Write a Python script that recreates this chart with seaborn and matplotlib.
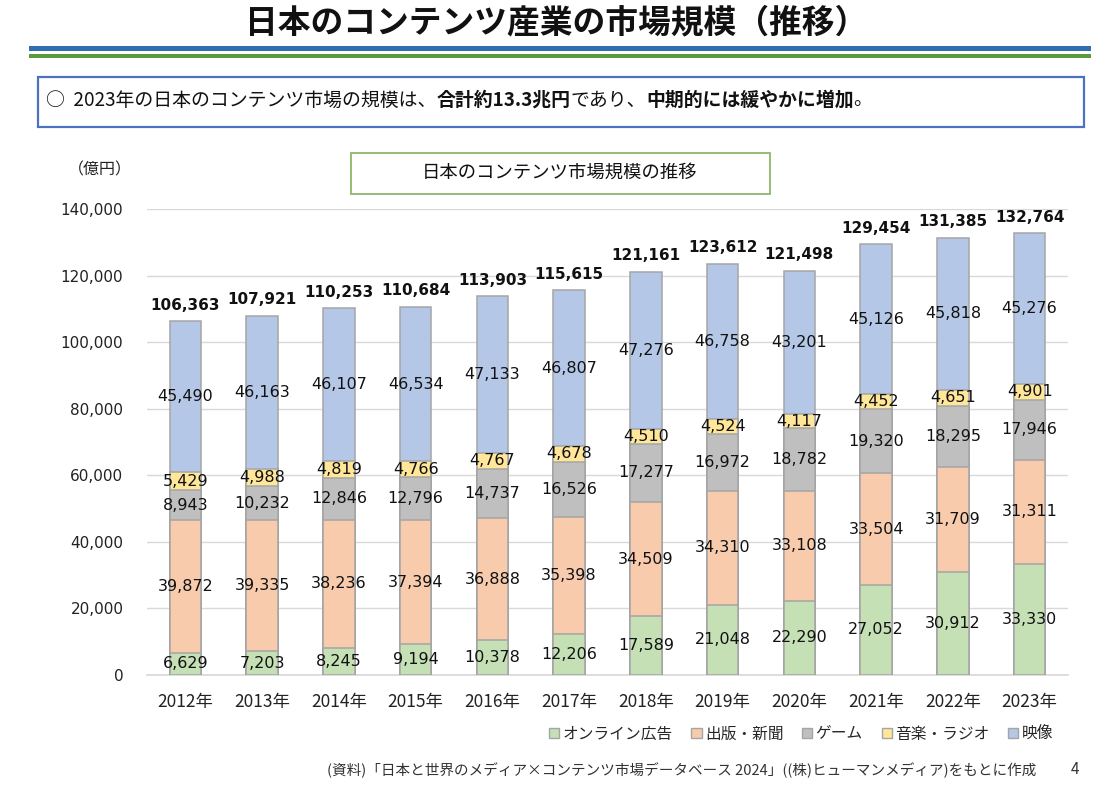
"""
日本のコンテンツ産業の市場規模（推移） — stacked bar recreation
"""

import matplotlib
matplotlib.use("Agg")
import matplotlib.pyplot as plt
import matplotlib.patches as mpatches
import matplotlib.ticker as mticker
import pandas as pd
import seaborn as sns

# ── Data (億円) ───────────────────────────────────────────────────────────────
years    = ["2012年", "2013年", "2014年", "2015年", "2016年", "2017年",
            "2018年", "2019年", "2020年", "2021年", "2022年", "2023年"]
online   = [6629, 7203, 8245, 9194, 10378, 12206, 17589, 21048, 22290, 27052, 30912, 33330]
publish  = [39872, 39335, 38236, 37394, 36888, 35398, 34509, 34310, 33108, 33504, 31709, 31311]
game     = [8943, 10232, 12846, 12796, 14737, 16526, 17277, 16972, 18782, 19320, 18295, 17946]
music    = [5429, 4988, 4819, 4766, 4767, 4678, 4510, 4524, 4117, 4452, 4651, 4901]
video    = [45490, 46163, 46107, 46534, 47133, 46807, 47276, 46758, 43201, 45126, 45818, 45276]
totals   = [106363, 107921, 110253, 110684, 113903, 115615, 121161, 123612, 121498, 129454, 131385, 132764]

series_names = ["オンライン広告", "出版・新聞", "ゲーム", "音楽・ラジオ", "映像"]
COLORS = ["#C5E0B4", "#F8CBAD", "#BFBFBF", "#FFE699", "#B4C7E7"]
EDGE   = "#A5A5A5"

JP = ["Noto Sans CJK JP", "DejaVu Sans"]

sns.set_theme(style="white")
plt.rcParams["font.family"] = ["DejaVu Sans", "Noto Sans CJK JP"]

df = pd.DataFrame({"year": years, "online": online, "publish": publish,
                   "game": game, "music": music, "video": video})
layers = ["online", "publish", "game", "music", "video"]
cum = df[layers].cumsum(axis=1)

# ── Figure ────────────────────────────────────────────────────────────────────
W, H = 1115, 787
fig = plt.figure(figsize=(W / 100, H / 100), dpi=100)
fig.patch.set_facecolor("white")


def fx(px):
    return px / W


def fy(py):
    return 1 - py / H


# page title + rules
fig.text(fx(556), fy(23), "日本のコンテンツ産業の市場規模（推移）", ha="center", va="center",
         fontsize=23.6, fontweight="bold", family=JP, color="#111111")
fig.patches.append(mpatches.Rectangle((fx(29), fy(51)), fx(1062), 5 / H,
                                      transform=fig.transFigure, color="#2F6EB0", lw=0))
fig.patches.append(mpatches.Rectangle((fx(29), fy(57.5)), fx(1062), 3 / H,
                                      transform=fig.transFigure, color="#5A9A3A", lw=0))

# summary box
fig.patches.append(mpatches.Rectangle((fx(38), fy(127)), fx(1046), 50 / H,
                                      transform=fig.transFigure, fill=False,
                                      edgecolor="#4A72C0", lw=1.6))
segments = [("○  2023年の日本のコンテンツ市場の規模は、", "normal"),
            ("合計約13.3兆円", "bold"),
            ("であり、", "normal"),
            ("中期的には緩やかに増加", "bold"),
            ("。", "normal")]
renderer = fig.canvas.get_renderer()
x_px = 46
for txt, wt in segments:
    t = fig.text(fx(x_px), fy(100), txt, ha="left", va="center",
                 fontsize=13.6, fontweight=wt, family=JP, color="#111111")
    x_px += t.get_window_extent(renderer).width

# chart title box
fig.patches.append(mpatches.Rectangle((fx(351), fy(194)), fx(419), 41 / H,
                                      transform=fig.transFigure, fill=False,
                                      edgecolor="#8CB86A", lw=1.3))
fig.text(fx(560), fy(173), "日本のコンテンツ市場規模の推移", ha="center", va="center",
         fontsize=13.2, family=JP, color="#111111")
fig.text(fx(68), fy(170), "（億円）", ha="left", va="center", fontsize=11.5, family=JP,
         color="#222222")

# ── Stacked bars ──────────────────────────────────────────────────────────────
ax = fig.add_axes([fx(147), fy(675), fx(1068 - 147), (675 - 209) / H])
for layer, color in reversed(list(zip(layers, COLORS))):
    sns.barplot(x=df["year"], y=cum[layer], color=color, saturation=1,
                width=0.41, edgecolor=EDGE, linewidth=1.1, ax=ax, zorder=3)

ax.set_ylim(0, 140000)
ax.set_xlim(-0.5, len(years) - 0.5)
ax.yaxis.set_major_locator(mticker.MultipleLocator(20000))
ax.yaxis.set_major_formatter(mticker.FuncFormatter(lambda v, _: f"{v:,.0f}"))
ax.grid(axis="y", color="#D9D9D9", lw=1, zorder=0)
ax.set_axisbelow(True)
for s in ["top", "right", "left"]:
    ax.spines[s].set_visible(False)
ax.spines["bottom"].set_color("#D9D9D9")
ax.tick_params(axis="y", length=0, pad=17, labelsize=11, labelcolor="#222222")
ax.tick_params(axis="x", length=0, pad=13, labelsize=12.5, labelcolor="#222222")
for lab in ax.get_xticklabels():
    lab.set_family(JP)
ax.set_xlabel("")
ax.set_ylabel("")

# segment labels
for i in range(len(years)):
    bottom = 0
    for layer in layers:
        val = df.loc[i, layer]
        ax.text(i, bottom + val / 2, f"{val:,}", ha="center", va="center",
                fontsize=11.5, color="#111111", zorder=5)
        bottom += val
    ax.annotate(f"{totals[i]:,}", (i, totals[i]), xytext=(0, 6), textcoords="offset points",
                ha="center", va="bottom", fontsize=11, fontweight="bold", color="#111111")

# legend
handles = [mpatches.Patch(facecolor=c, edgecolor=EDGE, lw=1, label=n)
           for n, c in zip(series_names, COLORS)]
fig.legend(handles=handles, loc="center left", bbox_to_anchor=(fx(549), fy(734)),
           ncol=5, frameon=False, handlelength=0.65, handleheight=0.65,
           handletextpad=0.2, columnspacing=1.2, borderpad=0, borderaxespad=0,
           prop={"family": JP, "size": 11.3})

# source footer
fig.text(fx(1036), fy(770), "(資料)「日本と世界のメディア×コンテンツ市場データベース 2024」((株)ヒューマンメディア)をもとに作成",
         ha="right", va="center", fontsize=10.5, family=JP, color="#333333")
fig.text(fx(1075), fy(770), "4", ha="center", va="center", fontsize=11, family=JP, color="#333333")

fig.savefig("out.png", dpi=100)
plt.close(fig)
